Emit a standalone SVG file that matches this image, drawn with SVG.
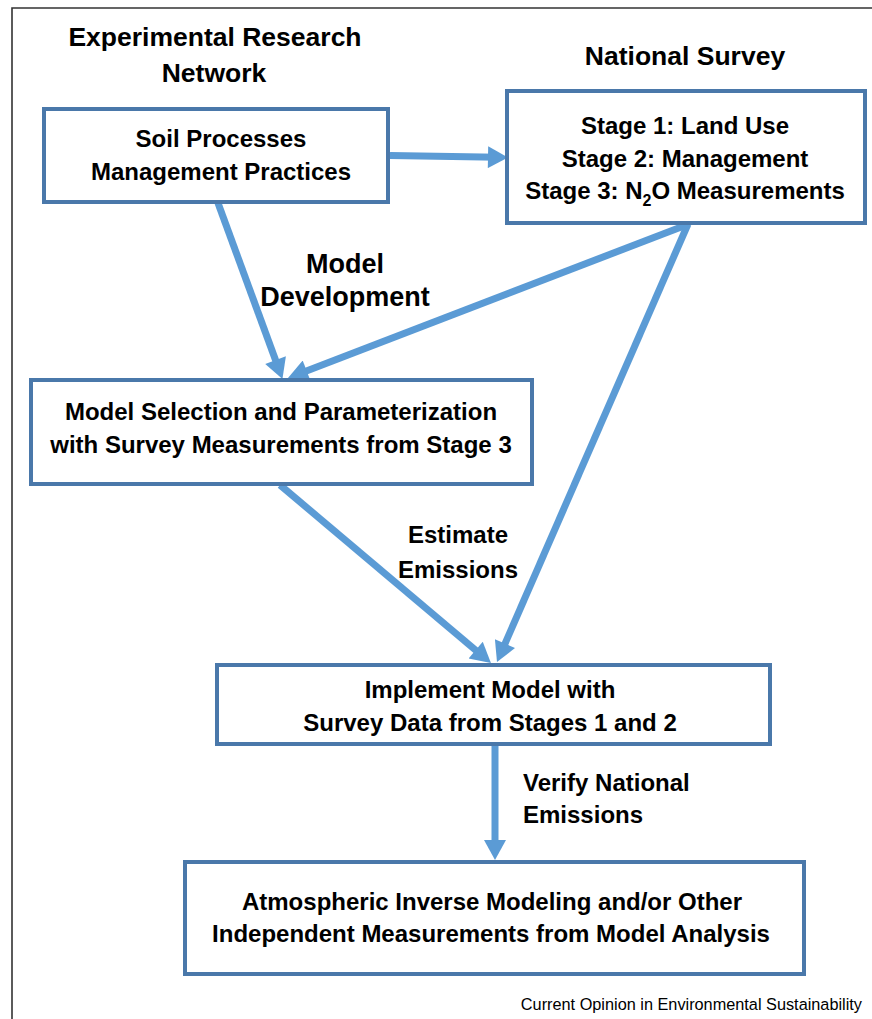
<svg xmlns="http://www.w3.org/2000/svg" width="872" height="1019" viewBox="0 0 872 1019">
<style>
.box{fill:#fff;stroke:#4a78aa;stroke-width:4}
.t{font-family:"Liberation Sans",Arial,sans-serif;font-weight:bold;fill:#000;text-anchor:middle}
.b{font-size:24px}
.h{font-size:26.5px}
.l{font-size:24px}
.md{font-size:27px}
.arr{stroke:#5b9bd5;fill:none;stroke-width:7}
</style>
<defs>
<marker id="ah" markerUnits="userSpaceOnUse" markerWidth="22" markerHeight="22" refX="10" refY="11" orient="auto" viewBox="0 0 20 22">
<path d="M0,0 L20,11 L0,22 z" fill="#5b9bd5"/>
</marker>
</defs>
<rect width="872" height="1019" fill="#fff"/>
<path d="M12,1019 V8 H872" fill="none" stroke="#333" stroke-width="1.6"/>

<g id="header-experimental">
<text class="t h" x="215" y="46">Experimental Research</text>
<text class="t h" x="214" y="82">Network</text>
</g>
<g id="header-national">
<text class="t h" x="685" y="65">National Survey</text>
</g>

<g id="connectors">
<path class="arr" d="M390,155.5 L498,157.3" marker-end="url(#ah)"/>
<path class="arr" d="M218,203 L279,369.5" stroke-width="6" marker-end="url(#ah)"/>
<path class="arr" d="M689,224 L297.3,374.4" stroke-width="9" marker-end="url(#ah)"/>
<path class="arr" d="M688,224 L501,652.8" stroke-width="6" marker-end="url(#ah)"/>
<path class="arr" d="M280,485 L483.3,656.6" marker-end="url(#ah)"/>
<path class="arr" d="M495,745 L495,850" marker-end="url(#ah)"/>
</g>

<g id="node-soil">
<rect class="box" x="44" y="109" width="344" height="93"/>
<text class="t b" x="221" y="147">Soil Processes</text>
<text class="t b" x="221" y="180">Management Practices</text>
</g>
<g id="node-survey">
<rect class="box" x="507" y="91" width="358" height="132"/>
<text class="t b" x="685" y="134">Stage 1: Land Use</text>
<text class="t b" x="685" y="167">Stage 2: Management</text>
<text class="t b" x="685" y="199">Stage 3: N<tspan font-size="16" dy="7">2</tspan><tspan dy="-7">O Measurements</tspan></text>
</g>
<g id="label-model-dev">
<text class="t md" x="345" y="273">Model</text>
<text class="t md" x="345" y="306">Development</text>
</g>
<g id="node-selection">
<rect class="box" x="31" y="380" width="501" height="104"/>
<text class="t b" x="281" y="420">Model Selection and Parameterization</text>
<text class="t b" x="281" y="453">with Survey Measurements from Stage 3</text>
</g>
<g id="label-estimate">
<text class="t l" x="458" y="543">Estimate</text>
<text class="t l" x="458" y="578">Emissions</text>
</g>
<g id="node-implement">
<rect class="box" x="217" y="665" width="553" height="79"/>
<text class="t b" x="490" y="698">Implement Model with</text>
<text class="t b" x="490" y="731">Survey Data from Stages 1 and 2</text>
</g>
<g id="label-verify">
<text class="t l" x="523" y="791" style="text-anchor:start">Verify National</text>
<text class="t l" x="523" y="823" style="text-anchor:start">Emissions</text>
</g>
<g id="node-atmospheric">
<rect class="box" x="185" y="862" width="619" height="112"/>
<text class="t b" x="492" y="910">Atmospheric Inverse Modeling and/or Other</text>
<text class="t b" x="491" y="942">Independent Measurements from Model Analysis</text>
</g>
<g id="footer">
<text x="862" y="1010" font-family="Liberation Sans,Arial,sans-serif" font-size="16.3" text-anchor="end" fill="#000">Current Opinion in Environmental Sustainability</text>
</g>
</svg>
